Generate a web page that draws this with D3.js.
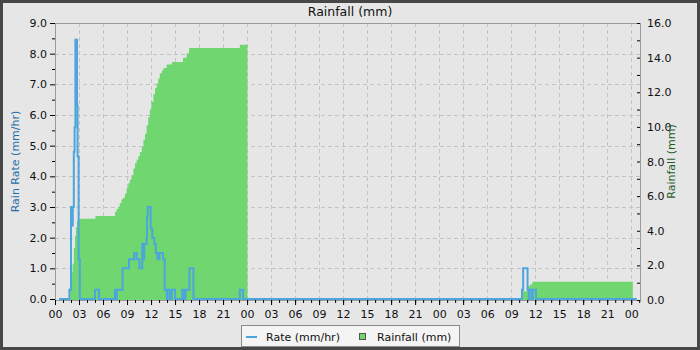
<!DOCTYPE html>
<html>
<head>
<meta charset="utf-8">
<script src="https://cdn.jsdelivr.net/npm/d3@7"></script>
<style>
body { margin: 0; background: #e6e6e6; }
text { font-family: "DejaVu Sans", sans-serif; }
</style>
</head>
<body>
<script>
// all times are hours since 00:00 on the first day

// rain rate (mm/hr), stepped
var rateHours = [0.5, 1.8, 2.0, 2.15, 2.22, 2.35, 2.45, 2.55, 2.75, 2.82, 2.95, 3.1,
    5.0, 5.5, 7.5, 7.62, 7.72, 8.45, 9.25, 9.9, 10.2, 10.55, 10.9, 11.05, 11.15, 11.45, 11.5, 11.6,
    11.95, 12.15, 12.4, 12.6, 12.8, 13.05, 13.5, 13.7, 13.97, 14.08, 14.38, 14.58, 15.0,
    15.9, 16.1, 16.3, 16.8, 17.3, 23.1, 23.5,
    58.35, 58.5, 59.05, 59.2, 59.3, 59.6, 59.7, 60.1, 72.7];
var rateValues = [0, 0.3, 3.0, 2.4, 3.0, 4.8, 5.6, 8.45, 6.3, 4.65, 1.3, 0,
    0.3, 0, 0.3, 0, 0.3, 1.0, 1.3, 1.5, 1.3, 1.0, 1.8, 1.3, 1.8, 2.0, 2.7, 3.0,
    2.3, 2.0, 1.8, 1.5, 1.3, 1.5, 1.3, 0.3, 0, 0.3, 0, 0.3, 0,
    0.3, 0, 0.3, 1.0, 0, 0.3, 0,
    0.3, 1.0, 0.3, 0, 0.3, 0, 0.3, 0, 0];

// cumulative rainfall (mm), null = no data
var rainHours = [1.9, 1.97, 2.1, 2.2, 2.35, 2.5, 2.62, 2.75, 2.88, 5.05,
    7.5, 7.7, 7.9, 8.1, 8.3, 8.5, 8.75, 8.95, 9.15, 9.35, 9.55, 9.8, 10.0, 10.2, 10.4, 10.6,
    10.85, 11.05, 11.25, 11.45, 11.65, 11.85, 12.05, 12.3, 12.5, 12.7, 12.9, 13.1, 13.35, 13.55,
    13.95, 14.6, 16.0, 16.45, 16.75, 23.1, 24.05, 24.06,
    58.4, 59.05, 59.35, 59.65, 72.2];
var rainValues = [0.6, 1.2, 1.6, 2.1, 3.0, 3.7, 4.2, 4.55, 4.7, 4.85,
    5.1, 5.25, 5.4, 5.6, 5.8, 5.9, 6.15, 6.45, 6.75, 6.95, 7.2, 7.6, 7.9, 8.1, 8.3, 8.55,
    8.85, 9.25, 9.6, 10.1, 10.55, 11.0, 11.45, 11.9, 12.25, 12.5, 12.8, 13.1, 13.25, 13.4,
    13.6, 13.75, 14.0, 14.25, 14.55, 14.75, 14.75, null,
    0.5, 0.8, 0.9, 1.05, 1.05];

var hourTicks = d3.range(0, 73, 3);
var hourMinor = d3.range(0, 74, 1);
var rateTicks = d3.range(0, 10, 1);
var rateMinor = d3.range(0.5, 9, 1);
var rainTicks = d3.range(0, 17, 2);
var rainMinor = d3.range(1, 16, 2);

var width = 700, height = 350;
var plotL = 55, plotR = 640, plotT = 23, plotB = 300;

var blue = "#4ca5dc", green = "#70d670";

var svg = d3.select("body").append("svg")
    .attr("width", width)
    .attr("height", height);

svg.append("rect")
    .attr("x", 1.5).attr("y", 1.5)
    .attr("width", width - 3).attr("height", height - 3)
    .attr("fill", "#e6e6e6")
    .attr("stroke", "#474747")
    .attr("stroke-width", 3);

var x = d3.scaleLinear().domain([0, 73.1]).range([plotL, plotR]);
var yRate = d3.scaleLinear().domain([0, 9]).range([plotB - 1, plotT]);
var yRain = d3.scaleLinear().domain([0, 16]).range([plotB, plotT]);

//grid
svg.append("g").selectAll("line")
    .data(hourTicks.filter(function(d){ return d > 0; }))
    .enter().append("line")
    .attr("x1", function(d){ return Math.round(x(d)) + 0.5; })
    .attr("x2", function(d){ return Math.round(x(d)) + 0.5; })
    .attr("y1", plotT).attr("y2", plotB)
    .attr("stroke", "#c3c3c3")
    .attr("stroke-dasharray", "4,3");

svg.append("g").selectAll("line")
    .data(rateTicks.filter(function(d){ return d > 0 && d < 9; }))
    .enter().append("line")
    .attr("x1", plotL).attr("x2", plotR)
    .attr("y1", function(d){ return Math.round(yRate(d)) + 0.5; })
    .attr("y2", function(d){ return Math.round(yRate(d)) + 0.5; })
    .attr("stroke", "#c3c3c3")
    .attr("stroke-dasharray", "4,3");

//rainfall area
var rainData = rainHours.map(function(h, i){ return {h: h, v: rainValues[i]}; });
var area = d3.area()
    .defined(function(d){ return d.v != null; })
    .curve(d3.curveStepAfter)
    .x(function(d){ return x(d.h); })
    .y0(yRain(0))
    .y1(function(d){ return yRain(d.v); });

svg.append("path")
    .datum(rainData)
    .attr("d", area)
    .attr("fill", green);

//rate line
var rateData = rateHours.map(function(h, i){ return {h: h, v: rateValues[i]}; });
var line = d3.line()
    .curve(d3.curveStepAfter)
    .x(function(d){ return x(d.h); })
    .y(function(d){ return yRate(d.v); });

svg.append("path")
    .datum(rateData)
    .attr("d", line)
    .attr("fill", "none")
    .attr("stroke", blue)
    .attr("stroke-width", 2);

//frame
svg.append("rect")
    .attr("x", plotL + 0.5).attr("y", plotT + 0.5)
    .attr("width", plotR - plotL).attr("height", plotB - plotT)
    .attr("fill", "none")
    .attr("stroke", "#9a9a9a");

//axes
var fmtHour = function(h){ return d3.format("02d")(h % 24); };

svg.append("g")
    .attr("transform", "translate(0," + plotB + ")")
    .call(d3.axisBottom(x).tickValues(hourTicks).tickFormat(fmtHour).tickSize(5).tickPadding(5));
svg.append("g")
    .attr("transform", "translate(0," + plotB + ")")
    .call(d3.axisBottom(x).tickValues(hourMinor).tickFormat("").tickSize(3));

svg.append("g")
    .attr("transform", "translate(" + plotL + ",0)")
    .call(d3.axisLeft(yRate).tickValues(rateTicks).tickFormat(d3.format(".1f")).tickSize(5).tickPadding(3));
svg.append("g")
    .attr("transform", "translate(" + plotL + ",0)")
    .call(d3.axisLeft(yRate).tickValues(rateMinor).tickFormat("").tickSize(3));

svg.append("g")
    .attr("transform", "translate(" + plotR + ",0)")
    .call(d3.axisRight(yRain).tickValues(rainTicks).tickFormat(d3.format(".1f")).tickSizeInner(-3).tickSizeOuter(0).tickPadding(7));
svg.append("g")
    .attr("transform", "translate(" + plotR + ",0)")
    .call(d3.axisRight(yRain).tickValues(rainMinor).tickFormat("").tickSizeInner(-3).tickSizeOuter(0));

svg.selectAll(".domain").remove();
svg.selectAll(".tick text")
    .attr("font-size", 11)
    .attr("font-family", "DejaVu Sans, sans-serif")
    .attr("fill", "#111");

//titles
svg.append("text")
    .attr("x", width / 2).attr("y", 16)
    .attr("text-anchor", "middle")
    .attr("font-size", 12.5)
    .attr("fill", "#111")
    .text("Rainfall (mm)");

svg.append("text")
    .attr("transform", "translate(19," + ((plotT + plotB) / 2) + ") rotate(-90)")
    .attr("text-anchor", "middle")
    .attr("font-size", 11)
    .attr("fill", "#1f6fa6")
    .text("Rain Rate (mm/hr)");

svg.append("text")
    .attr("transform", "translate(675," + ((plotT + plotB) / 2) + ") rotate(-90)")
    .attr("text-anchor", "middle")
    .attr("font-size", 11)
    .attr("fill", "#1d5e1d")
    .text("Rainfall (mm)");

//legend
var legend = svg.append("g");
legend.append("rect")
    .attr("x", 241.5).attr("y", 325.5)
    .attr("width", 218).attr("height", 21)
    .attr("fill", "#f4f4f4")
    .attr("stroke", "#8a8a8a");
legend.append("line")
    .attr("x1", 246).attr("x2", 257)
    .attr("y1", 337).attr("y2", 337)
    .attr("stroke", blue).attr("stroke-width", 2);
legend.append("text")
    .attr("x", 266).attr("y", 341)
    .attr("font-size", 11).attr("fill", "#111")
    .text("Rate (mm/hr)");
legend.append("rect")
    .attr("x", 359.5).attr("y", 333.5)
    .attr("width", 6).attr("height", 6)
    .attr("fill", green)
    .attr("stroke", "#555");
legend.append("text")
    .attr("x", 377).attr("y", 341)
    .attr("font-size", 11).attr("fill", "#111")
    .text("Rainfall (mm)");
</script>
</body>
</html>
